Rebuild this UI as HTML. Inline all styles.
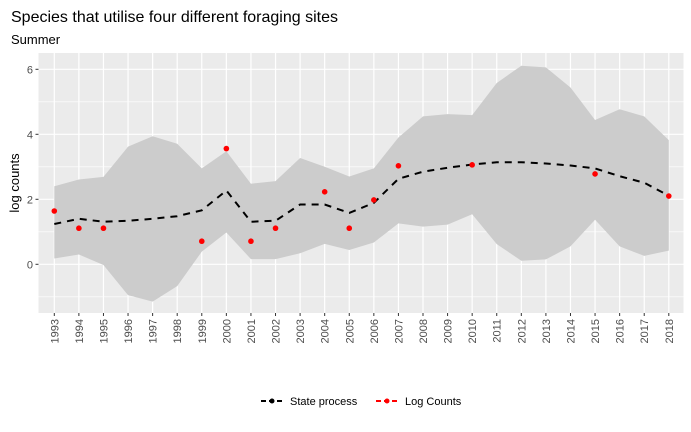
<!DOCTYPE html>
<html><head><meta charset="utf-8"><style>
body{margin:0;background:#fff;font-family:"Liberation Sans",Arial,sans-serif;}
</style></head><body>
<svg id="chart" width="691" height="427" xmlns="http://www.w3.org/2000/svg">
<text x="11" y="22" font-size="16" fill="#000">Species that utilise four different foraging sites</text>
<text x="11" y="44" font-size="13" fill="#000">Summer</text>
<rect x="38.5" y="53" width="645" height="260" fill="#ebebeb"/>
<g id="grid"></g>
<g id="marks"></g>
<g id="axes"></g>
<text transform="translate(19,183) rotate(-90)" text-anchor="middle" font-size="13" fill="#000">log counts</text>
<g>
<g>
<line x1="261" y1="401" x2="283" y2="401" stroke="#000" stroke-width="2" stroke-dasharray="5,3"/>
<circle cx="272" cy="401" r="2.5" fill="#000"/>
<text x="290" y="405" font-size="11" fill="#000">State process</text>
</g>
<g>
<line x1="376" y1="401" x2="398" y2="401" stroke="#f00" stroke-width="2" stroke-dasharray="5,3"/>
<circle cx="387" cy="401" r="2.5" fill="#f00"/>
<text x="405" y="405" font-size="11" fill="#000">Log Counts</text>
</g>
</g>
</svg>
<script>
const years=[1993,1994,1995,1996,1997,1998,1999,2000,2001,2002,2003,2004,2005,2006,2007,2008,2009,2010,2011,2012,2013,2014,2015,2016,2017,2018];
const stateValues=[1.24,1.40,1.31,1.34,1.40,1.48,1.66,2.27,1.31,1.34,1.84,1.84,1.58,1.89,2.63,2.85,2.97,3.07,3.14,3.14,3.10,3.04,2.95,2.71,2.51,2.11];
const upperValues=[2.40,2.61,2.69,3.62,3.94,3.71,2.95,3.48,2.48,2.56,3.27,3.00,2.70,2.95,3.90,4.55,4.62,4.59,5.58,6.11,6.06,5.44,4.44,4.77,4.55,3.82];
const lowerValues=[0.18,0.30,-0.02,-0.95,-1.15,-0.67,0.39,0.98,0.16,0.16,0.34,0.63,0.44,0.67,1.26,1.16,1.22,1.54,0.62,0.11,0.15,0.55,1.37,0.55,0.26,0.42];
const countYears=[1993,1994,1995,1999,2000,2001,2002,2004,2005,2006,2007,2010,2015,2018];
const countValues=[1.64,1.11,1.11,0.71,3.56,0.71,1.11,2.23,1.11,1.98,3.03,3.06,2.78,2.10];
const yTicks=[0,2,4,6];
const NS="http://www.w3.org/2000/svg";
const x=v=>54.3+(v-1993)*24.58;
const y=v=>264.3-v*32.5;
function mk(tag,attrs,parent){const e=document.createElementNS(NS,tag);for(const k in attrs)e.setAttribute(k,attrs[k]);document.getElementById(parent).appendChild(e);return e;}
// minor grid
for(let v=-1;v<=5;v+=2){const l=mk('line',{x1:38.5,x2:683.5,y1:y(v),y2:y(v),stroke:'#fff','stroke-width':0.6},'grid');

}
yTicks.forEach(t=>{const l=mk('line',{x1:38.5,x2:683.5,y1:y(t),y2:y(t),stroke:'#fff','stroke-width':1.2},'grid');


const tk=mk('line',{x1:35.5,x2:38.5,y1:y(t),y2:y(t),stroke:'#333'},'axes');


const tx=mk('text',{x:33,y:y(t)+4,'text-anchor':'end','font-size':11,fill:'#4d4d4d'},'axes');tx.textContent=t;

});
years.forEach(yr=>{const l=mk('line',{x1:x(yr),x2:x(yr),y1:53,y2:313,stroke:'#fff','stroke-width':1.2},'grid');


const tk=mk('line',{x1:x(yr),x2:x(yr),y1:313,y2:316,stroke:'#333'},'axes');


const tx=mk('text',{transform:`translate(${x(yr)+4},319) rotate(-90)`,'text-anchor':'end','font-size':11,fill:'#4d4d4d'},'axes');tx.textContent=yr;

});
let d=years.map((yr,i)=>(i?'L':'M')+x(yr)+','+y(upperValues[i])).join('');
for(let i=years.length-1;i>=0;i--)d+='L'+x(years[i])+','+y(lowerValues[i]);
const band=mk('path',{d:d+'Z',fill:'#cccccc'},'marks');


const line=mk('path',{d:years.map((yr,i)=>(i?'L':'M')+x(yr)+','+y(stateValues[i])).join(''),fill:'none',stroke:'#000','stroke-width':2,'stroke-dasharray':'7,6'},'marks');


countYears.forEach((yr,i)=>{const c=mk('circle',{cx:x(yr),cy:y(countValues[i]),r:2.8,fill:'#f00'},'marks');

});
</script>
</body></html>
